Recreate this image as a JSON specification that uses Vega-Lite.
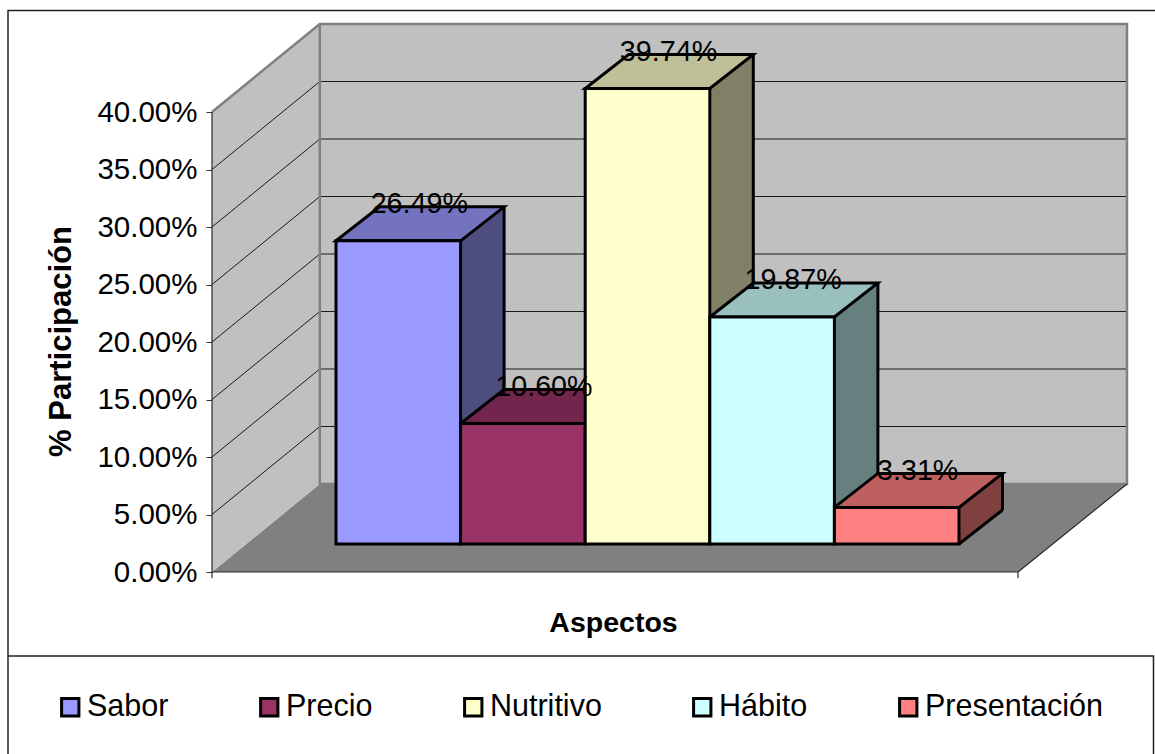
{
  "$schema": "https://vega.github.io/schema/vega-lite/v6.json",
  "width": 1147,
  "height": 646,
  "autosize": "none",
  "padding": {"left": 8, "top": 10, "right": 0, "bottom": 98},
  "background": "white",
  "config": {"view": {"stroke": null}, "font": "Liberation Sans"},
  "datasets": {
    "aspectos": [
      {"aspecto": "Sabor", "participacion": 0.2649},
      {"aspecto": "Precio", "participacion": 0.1060},
      {"aspecto": "Nutritivo", "participacion": 0.3974},
      {"aspecto": "Hábito", "participacion": 0.1987},
      {"aspecto": "Presentación", "participacion": 0.0331}
    ],
    "marcas": [
      {"marca": 0.05}, {"marca": 0.10}, {"marca": 0.15}, {"marca": 0.20},
      {"marca": 0.25}, {"marca": 0.30}, {"marca": 0.35}
    ],
    "origen": [{"aspecto": "Sabor", "participacion": 0}]
  },
  "resolve": {"scale": {"color": "independent"}},
  "layer": [
    {
      "description": "Marco exterior y recuadro de la leyenda",
      "data": {"name": "origen"},
      "mark": {"type": "point", "size": 4, "opacity": 1, "filled": false, "stroke": "#222222", "strokeWidth": 1.5,
        "shape": "M756.7 -561.5 L-390.3 -561.5 L-390.3 182 M-390.3 84 L755.2 84 L755.2 182"},
      "encoding": {
        "x": {"field": "aspecto", "type": "nominal",
          "scale": {"type": "band", "domain": ["Sabor", "Precio", "Nutritivo", "Hábito", "Presentación"], "range": [328, 951], "paddingInner": 0, "paddingOuter": 0},
          "axis": {"labels": false, "ticks": false, "domain": false, "grid": false, "title": "Aspectos", "titleFontSize": 28.5, "titleFontWeight": "bold", "titleColor": "black", "titleX": 605, "titleY": -34, "titleBaseline": "middle", "titleAlign": "center"}},
        "y": {"field": "participacion", "type": "quantitative",
          "scale": {"domain": [0, 0.4], "range": [562, 102], "zero": false, "nice": false},
          "axis": {"values": [0, 0.05, 0.1, 0.15, 0.2, 0.25, 0.3, 0.35, 0.4], "format": ".2%", "offset": -204, "domain": false, "grid": false, "tickSize": 6, "tickColor": "#333333", "labelFontSize": 29.5, "labelColor": "black", "labelPadding": 9, "title": "% Participación", "titleFontSize": 31, "titleFontWeight": "bold", "titleColor": "black", "titleX": -151, "titleY": 331, "titleBaseline": "middle", "titleAlign": "center"}}
      }
    },
    {
      "description": "Suelo y paredes del cuadro tridimensional",
      "data": {"name": "origen"},
      "mark": {"type": "point", "size": 4, "opacity": 1, "filled": true, "fill": "#808080", "strokeWidth": 0,
        "shape": "M-186.3 0 L-78.5 -88 L728.7 -88 L619.7 0 Z"},
      "encoding": {"x": {"field": "aspecto", "type": "nominal"}, "y": {"field": "participacion", "type": "quantitative"}}
    },
    {
      "data": {"name": "origen"},
      "mark": {"type": "point", "size": 4, "opacity": 1, "filled": true, "fill": "#C0C0C0", "strokeWidth": 0,
        "shape": "M-186.3 0 L-78.5 -88 L-78.5 -548 L-186.3 -460 Z M-78.5 -88 L728.7 -88 L728.7 -548 L-78.5 -548 Z"},
      "encoding": {"x": {"field": "aspecto", "type": "nominal"}, "y": {"field": "participacion", "type": "quantitative"}}
    },
    {
      "description": "Líneas de división sobre las dos paredes",
      "data": {"name": "marcas"},
      "mark": {"type": "point", "size": 4, "opacity": 1, "filled": false, "stroke": "#1a1a1a", "strokeWidth": 1,
        "shape": "M-186.3 0 L-78.5 -88 L728.7 -88"},
      "encoding": {"x": {"datum": "Sabor", "type": "nominal"}, "y": {"field": "marca", "type": "quantitative"}}
    },
    {
      "description": "Contorno gris de las paredes y ejes",
      "data": {"name": "origen"},
      "mark": {"type": "point", "size": 4, "opacity": 1, "filled": false, "stroke": "#808080", "strokeWidth": 2.5,
        "shape": "M-186.3 -460 L-78.5 -548 L728.7 -548 L728.7 -88 L-78.5 -88 L-78.5 -548"},
      "encoding": {"x": {"field": "aspecto", "type": "nominal"}, "y": {"field": "participacion", "type": "quantitative"}}
    },
    {
      "data": {"name": "origen"},
      "mark": {"type": "point", "size": 4, "opacity": 1, "filled": false, "stroke": "#2a2a2a", "strokeWidth": 1.2,
        "shape": "M-186.3 -460 L-186.3 6 M-186.3 0 L619.7 0 L619.7 6 M619.7 0 L728.7 -88"},
      "encoding": {"x": {"field": "aspecto", "type": "nominal"}, "y": {"field": "participacion", "type": "quantitative"}}
    },
    {
      "description": "Cara lateral de cada barra: franja central",
      "data": {"name": "aspectos"},
      "mark": {"type": "bar", "width": 43.5, "xOffset": 84.05, "yOffset": -26.5, "y2Offset": -62, "strokeWidth": 0},
      "encoding": {
        "x": {"field": "aspecto", "type": "nominal"},
        "y": {"field": "participacion", "type": "quantitative"},
        "y2": {"datum": 0},
        "color": {"field": "aspecto", "type": "nominal", "legend": null,
          "scale": {"domain": ["Sabor", "Precio", "Nutritivo", "Hábito", "Presentación"], "range": ["#4D4D80", "#4D1A33", "#808066", "#668080", "#804040"]}}
      }
    },
    {
      "description": "Cara lateral: remate superior",
      "data": {"name": "aspectos"},
      "mark": {"type": "point", "size": 4, "opacity": 1, "filled": true, "strokeWidth": 0,
        "shape": "M62.3 -26.5 L105.8 -60.5 L105.8 -26 L62.3 -26 Z"},
      "encoding": {
        "x": {"field": "aspecto", "type": "nominal"},
        "y": {"field": "participacion", "type": "quantitative"},
        "color": {"field": "aspecto", "type": "nominal", "legend": null,
          "scale": {"domain": ["Sabor", "Precio", "Nutritivo", "Hábito", "Presentación"], "range": ["#4D4D80", "#4D1A33", "#808066", "#668080", "#804040"]}}
      }
    },
    {
      "description": "Cara lateral: remate inferior, anclado a la base",
      "data": {"name": "aspectos"},
      "mark": {"type": "point", "size": 4, "opacity": 1, "filled": true, "strokeWidth": 0,
        "shape": "M62.3 -62.5 L105.8 -62.5 L105.8 -62 L62.3 -28 Z"},
      "encoding": {
        "x": {"field": "aspecto", "type": "nominal"},
        "y": {"datum": 0},
        "color": {"field": "aspecto", "type": "nominal", "legend": null,
          "scale": {"domain": ["Sabor", "Precio", "Nutritivo", "Hábito", "Presentación"], "range": ["#4D4D80", "#4D1A33", "#808066", "#668080", "#804040"]}}
      }
    },
    {
      "description": "Arista vertical trasera",
      "data": {"name": "aspectos"},
      "mark": {"type": "rule", "xOffset": 105.8, "yOffset": -60.5, "y2Offset": -62, "stroke": "black", "strokeWidth": 3},
      "encoding": {
        "x": {"field": "aspecto", "type": "nominal"},
        "y": {"field": "participacion", "type": "quantitative"},
        "y2": {"datum": 0}
      }
    },
    {
      "description": "Arista inferior de la cara lateral",
      "data": {"name": "aspectos"},
      "mark": {"type": "point", "size": 4, "opacity": 1, "filled": false, "stroke": "black", "strokeWidth": 3,
        "shape": "M62.3 -28 L105.8 -62"},
      "encoding": {"x": {"field": "aspecto", "type": "nominal"}, "y": {"datum": 0}}
    },
    {
      "description": "Cara superior de cada barra",
      "data": {"name": "aspectos"},
      "mark": {"type": "point", "size": 4, "opacity": 1, "filled": true, "stroke": "black", "strokeWidth": 3,
        "shape": "M-62.3 -26.5 L62.3 -26.5 L105.8 -60.5 L-18.8 -60.5 Z"},
      "encoding": {
        "x": {"field": "aspecto", "type": "nominal"},
        "y": {"field": "participacion", "type": "quantitative"},
        "color": {"field": "aspecto", "type": "nominal", "legend": null,
          "scale": {"domain": ["Sabor", "Precio", "Nutritivo", "Hábito", "Presentación"], "range": ["#7373BF", "#73264D", "#BFBF99", "#99BFBF", "#BF6060"]}}
      }
    },
    {
      "description": "Cara frontal de cada barra",
      "data": {"name": "aspectos"},
      "mark": {"type": "bar", "yOffset": -26.5, "y2Offset": -28, "stroke": "black", "strokeWidth": 3},
      "encoding": {
        "x": {"field": "aspecto", "type": "nominal"},
        "y": {"field": "participacion", "type": "quantitative"},
        "y2": {"datum": 0},
        "color": {"field": "aspecto", "type": "nominal",
          "scale": {"domain": ["Sabor", "Precio", "Nutritivo", "Hábito", "Presentación"], "range": ["#9999FF", "#993366", "#FFFFCC", "#CCFFFF", "#FF8080"]},
          "legend": {"title": null, "orient": "none", "legendX": 47, "legendY": 682, "direction": "horizontal", "columns": 5, "columnPadding": 85, "gridAlign": "none", "symbolType": "square", "symbolSize": 300, "symbolStrokeColor": "black", "symbolStrokeWidth": 3, "labelFontSize": 30.5, "labelColor": "black", "labelOffset": 1.5, "labelLimit": 400, "padding": 0}}
      }
    },
    {
      "description": "Valor de cada barra",
      "data": {"name": "aspectos"},
      "mark": {"type": "text", "fontSize": 28.7, "color": "black", "dx": 21, "dy": -63, "baseline": "middle", "align": "center"},
      "encoding": {
        "x": {"field": "aspecto", "type": "nominal"},
        "y": {"field": "participacion", "type": "quantitative"},
        "text": {"field": "participacion", "type": "quantitative", "format": ".2%"}
      }
    }
  ]
}
